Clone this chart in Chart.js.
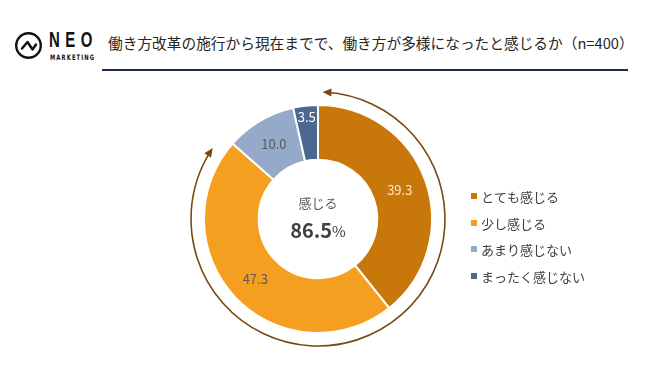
<!DOCTYPE html>
<html>
<head>
<meta charset="utf-8">
<script src="https://cdn.jsdelivr.net/npm/chart.js@4/dist/chart.umd.min.js"></script>
<style>
  html, body { margin: 0; padding: 0; background: #fff; }
  body { width: 645px; height: 371px; position: relative; overflow: hidden; font-family: "Noto Sans CJK JP", "Noto Sans", sans-serif; }
  #logo { position: absolute; left: 14px; top: 31px; }
  #neo { position: absolute; left: 49px; top: 27px; font: bold 22px "Liberation Sans", sans-serif; letter-spacing: 8px; color: #111; transform: scaleX(0.68); transform-origin: left top; }
  #mkt { position: absolute; left: 50px; top: 53px; font: bold 7.5px "DejaVu Sans", sans-serif; letter-spacing: 1.6px; color: #111; transform: scaleX(0.7); transform-origin: left top; }
  #title { position: absolute; left: 108px; top: 32px; font-size: 14.7px; color: #262626; white-space: nowrap; }
  #rule { position: absolute; left: 102px; top: 69px; width: 526px; height: 2px; background: #1f2a5c; }
  #wrap { position: absolute; left: 0; top: 0; width: 645px; height: 371px; }
</style>
</head>
<body>
<svg id="logo" width="30" height="30" viewBox="0 0 30 30">
  <circle cx="14.5" cy="14.5" r="12.3" fill="none" stroke="#111" stroke-width="2.4"/>
  <polyline points="8,17.5 13.5,11 18.5,18.5 22,13.5" fill="none" stroke="#111" stroke-width="2.4" stroke-linejoin="round" stroke-linecap="round"/>
</svg>
<div id="neo">NEO</div>
<div id="mkt">MARKETING</div>
<div id="title">働き方改革の施行から現在までで、働き方が多様になったと感じるか（n=400）</div>
<div id="rule"></div>
<div id="wrap"><canvas id="chart"></canvas></div>
<script>
// データ
var categories = ["とても感じる", "少し感じる", "あまり感じない", "まったく感じない"];
var values = [39.3, 47.3, 10.0, 3.5];
var feelTotal = 86.5;
var centerCaption = "感じる";

var colors = ["#c8780a", "#f59f20", "#95a9c9", "#4a6890"];
var labelColors = ["#fde6c3", "#595959", "#595959", "#ffffff"];
var labelPos = [0.5, 0.5, 0.5, 0.8];

var jpFont = '"Noto Sans CJK JP", "Noto Sans", sans-serif';

// ラベル、中央テキスト、矢印、凡例
var decorations = {
  id: 'decorations',
  afterDatasetsDraw: function(chart) {
    var ctx = chart.ctx;
    var meta = chart.getDatasetMeta(0);
    var arc0 = meta.data[0];
    var cx = arc0.x, cy = arc0.y, outer = arc0.outerRadius;

    ctx.save();
    ctx.textAlign = 'center';
    ctx.textBaseline = 'middle';
    ctx.font = '13px ' + jpFont;
    meta.data.forEach(function(a, i) {
      var mid = (a.startAngle + a.endAngle) / 2;
      var r = a.innerRadius + (a.outerRadius - a.innerRadius) * labelPos[i];
      ctx.fillStyle = labelColors[i];
      ctx.fillText(values[i].toFixed(1), cx + Math.cos(mid) * r, cy + Math.sin(mid) * r);
    });

    // 中央
    ctx.fillStyle = '#595959';
    ctx.font = '13px ' + jpFont;
    ctx.fillText(centerCaption, cx, cy - 16);
    ctx.font = 'bold 20px ' + jpFont;
    var num = feelTotal.toFixed(1);
    var w1 = ctx.measureText(num).width;
    ctx.font = '15px ' + jpFont;
    var w2 = ctx.measureText('%').width;
    var sx = cx - (w1 + w2) / 2;
    ctx.textAlign = 'left';
    ctx.fillStyle = '#404040';
    ctx.font = 'bold 20px ' + jpFont;
    ctx.fillText(num, sx, cy + 11);
    ctx.font = '15px ' + jpFont;
    ctx.fillText('%', sx + w1, cy + 12);

    // 矢印
    var R = outer + 13;
    var a1 = -Math.PI / 2 + 2 * Math.PI / 180;
    var a2 = -Math.PI / 2 + 304 * Math.PI / 180;
    ctx.strokeStyle = '#7a4812';
    ctx.fillStyle = '#7a4812';
    ctx.lineWidth = 1.6;
    ctx.beginPath();
    ctx.arc(cx, cy, R, a1 + 0.03, a2 - 0.03);
    ctx.stroke();
    function head(a, dirSign) {
      var px = cx + Math.cos(a) * R, py = cy + Math.sin(a) * R;
      var tx = -Math.sin(a) * dirSign, ty = Math.cos(a) * dirSign;
      var nx = -ty, ny = tx;
      ctx.beginPath();
      ctx.moveTo(px, py);
      ctx.lineTo(px - tx * 9 + nx * 4, py - ty * 9 + ny * 4);
      ctx.lineTo(px - tx * 9 - nx * 4, py - ty * 9 - ny * 4);
      ctx.closePath();
      ctx.fill();
    }
    head(a1, -1);
    head(a2, 1);

    // 凡例
    ctx.textAlign = 'left';
    ctx.font = '13px ' + jpFont;
    var ly = [196, 223, 249, 276];
    categories.forEach(function(c, i) {
      ctx.fillStyle = colors[i];
      ctx.fillRect(471, ly[i] - 3, 6, 6);
      ctx.fillStyle = '#404040';
      ctx.fillText(c, 481, ly[i] + 1);
    });
    ctx.restore();
  }
};

new Chart(document.getElementById('chart'), {
  type: 'doughnut',
  data: {
    labels: categories,
    datasets: [{
      data: values,
      backgroundColor: colors,
      borderColor: '#ffffff',
      borderWidth: 2
    }]
  },
  options: {
    responsive: true,
    maintainAspectRatio: false,
    animation: false,
    cutout: '52%',
    layout: { padding: { left: 203, right: 212, top: 104, bottom: 37 } },
    plugins: {
      legend: { display: false },
      tooltip: { enabled: false }
    }
  },
  plugins: [decorations]
});
</script>
</body>
</html>
